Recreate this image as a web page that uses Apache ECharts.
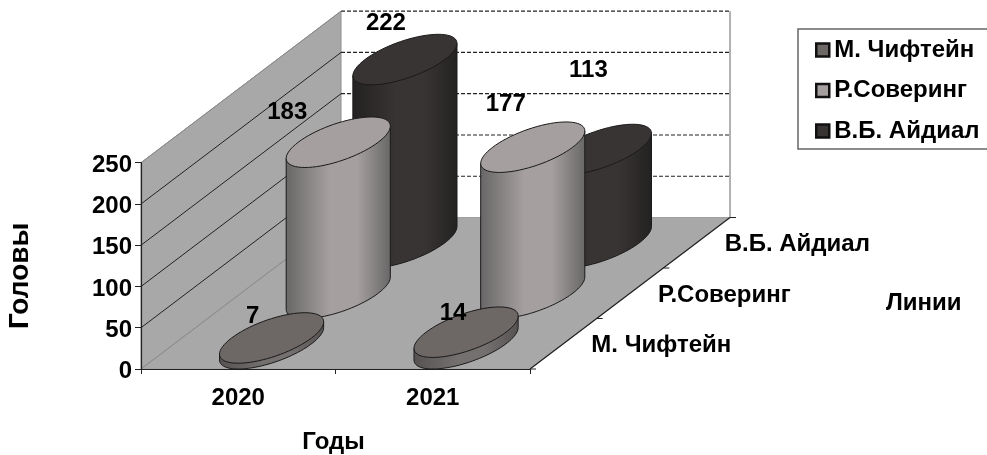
<!DOCTYPE html>
<html>
<head>
<meta charset="utf-8">
<style>html,body{margin:0;padding:0;background:#fff}#chart{width:987px;height:455px}</style>
<script src="https://cdn.jsdelivr.net/npm/echarts@6/dist/echarts.min.js"></script>
</head>
<body>
<div id="chart"></div>
<script>
// Поголовье по линиям и годам
const years = ['2020', '2021'];
const lineNames = ['М. Чифтейн', 'Р.Соверинг', 'В.Б. Айдиал'];
const chiftein = [7, 14];
const sovering = [183, 177];
const aidial = [222, 113];
const yTicks = [0, 50, 100, 150, 200, 250];

// Проекция глубины: смещение в пикселях на один ряд вдоль оси линий
const depthStep = [66.67, -50.5];
const cylinderHalfWidth = 40;
const FONT = '"Liberation Sans", Arial, sans-serif';
const FS = 24;

// Сдвиг подписей значений от центра верхнего торца
const labelShift = {
  0: [[-19, -22], [-13, -19]],
  1: [[-51, -30], [-27, -43]],
  2: [[-19, -36], [-11, -79]]
};
const depthLabelGap = 28;

const palette = [
  { top: '#6d6766', edge: '#565252', mid: '#757070', legend: '#6d6766' },
  { top: '#a5a09f', edge: '#686666', mid: '#a5a09f', legend: '#a5a09f' },
  { top: '#383433', edge: '#232121', mid: '#383433', legend: '#383433' }
];
const OUTLINE = '#1a1a1a';

function ellipsePoint(c, t) {
  return [
    c[0] + Math.cos(t) * cylinderHalfWidth + Math.sin(t) * depthStep[0] / 2,
    c[1] + Math.sin(t) * depthStep[1] / 2
  ];
}

function ellipsePoints(c, from, to, steps) {
  const pts = [];
  for (let i = 0; i <= steps; i++) {
    pts.push(ellipsePoint(c, from + (to - from) * i / steps));
  }
  return pts;
}

function cylinderRenderer(row) {
  const col = palette[row];
  return function (params, api) {
    const xi = api.value(0);
    const v = api.value(1);
    const base0 = api.coord([xi, 0]);
    const top0 = api.coord([xi, v]);
    const dx = depthStep[0] * (row + 0.5);
    const dy = depthStep[1] * (row + 0.5);
    const base = [base0[0] + dx, base0[1] + dy];
    const top = [top0[0] + dx, top0[1] + dy];
    const t0 = Math.atan2(depthStep[0] / 2, cylinderHalfWidth);
    const lowerArc = ellipsePoints(base, t0, t0 - Math.PI, 48);
    const side = [ellipsePoint(top, t0)].concat(lowerArc, [ellipsePoint(top, t0 - Math.PI)]);
    const cap = ellipsePoints(top, 0, Math.PI * 2, 72);
    const shift = labelShift[row][xi];
    return {
      type: 'group',
      children: [
        {
          type: 'polygon',
          shape: { points: side },
          style: {
            fill: new echarts.graphic.LinearGradient(0, 0, 1, 0, [
              { offset: 0, color: col.edge },
              { offset: 0.42, color: col.mid },
              { offset: 0.68, color: col.mid },
              { offset: 1, color: col.edge }
            ]),
            stroke: OUTLINE,
            lineWidth: 1
          }
        },
        {
          type: 'polygon',
          shape: { points: cap },
          style: { fill: col.top, stroke: OUTLINE, lineWidth: 1 }
        },
        {
          type: 'text',
          z2: 50,
          style: {
            x: top[0] + shift[0],
            y: top[1] + shift[1],
            text: String(v),
            fill: '#000',
            font: 'bold ' + FS + 'px ' + FONT,
            align: 'center',
            verticalAlign: 'middle'
          }
        }
      ]
    };
  };
}

// Стенки, пол, линии сетки и ось линий
function wallRenderer(params, api) {
  const v = api.value(0);
  const children = [];
  const band = api.size([1, 0])[0];
  const left = api.coord([0, v])[0] - band / 2;
  const right = api.coord([1, v])[0] + band / 2;
  const y = api.coord([0, v])[1];
  const D = [depthStep[0] * lineNames.length, depthStep[1] * lineNames.length];
  const y0 = api.coord([0, 0])[1];
  const yTop = api.coord([0, yTicks[yTicks.length - 1]])[1];

  if (params.dataIndex === 0) {
    children.push({
      type: 'polygon',
      shape: { points: [[left, y0], [left + D[0], y0 + D[1]], [left + D[0], yTop + D[1]], [left, yTop]] },
      style: { fill: '#a8a8a8', stroke: '#8f8f8f', lineWidth: 1 }
    });
    children.push({
      type: 'polygon',
      shape: { points: [[left, y0], [right, y0], [right + D[0], y0 + D[1]], [left + D[0], y0 + D[1]]] },
      style: { fill: '#a8a8a8', stroke: '#a0a0a0', lineWidth: 1 }
    });
    // правая граница задней стенки
    children.push({
      type: 'line',
      shape: { x1: right + D[0], y1: y0 + D[1], x2: right + D[0], y2: yTop + D[1] },
      style: { stroke: '#999', lineWidth: 1.5 }
    });
    // ось линий с засечками
    children.push({
      type: 'line',
      z2: 20,
      shape: { x1: right, y1: y0, x2: right + D[0], y2: y0 + D[1] },
      style: { stroke: '#222', lineWidth: 1.2 }
    });
    for (let i = 0; i <= lineNames.length; i++) {
      const tx = right + depthStep[0] * i;
      const ty = y0 + depthStep[1] * i;
      children.push({
        type: 'line',
        z2: 20,
        shape: { x1: tx, y1: ty, x2: tx + 6, y2: ty },
        style: { stroke: '#222', lineWidth: 1 }
      });
    }
    lineNames.forEach(function (name, i) {
      children.push({
        type: 'text',
        z2: 20,
        style: {
          x: right + depthStep[0] * (i + 0.5) + depthLabelGap,
          y: y0 + depthStep[1] * (i + 0.5) + 2,
          text: name,
          fill: '#000',
          font: 'bold ' + FS + 'px ' + FONT,
          align: 'left',
          verticalAlign: 'middle'
        }
      });
    });
  }

  if (v > 0) {
    children.push({
      type: 'line',
      z2: 5,
      shape: { x1: left + D[0], y1: y + D[1], x2: right + D[0], y2: y + D[1] },
      style: { stroke: '#222', lineWidth: 1.2, lineDash: [4, 2] }
    });
  }
  children.push({
    type: 'line',
    z2: 5,
    shape: { x1: left, y1: y, x2: left + D[0], y2: y + D[1] },
    style: {
      stroke: (v === 0 || v === yTicks[yTicks.length - 1]) ? '#8a8a8a' : '#222',
      lineWidth: 1
    }
  });
  return { type: 'group', children: children };
}

const lineValues = [chiftein, sovering, aidial];
const series = [{
  name: 'Стенки',
  type: 'custom',
  z: 0,
  silent: true,
  clip: false,
  renderItem: wallRenderer,
  encode: { y: 0 },
  data: yTicks.map(function (t) { return [t]; })
}];
[2, 1, 0].forEach(function (row) {
  series.push({
    name: lineNames[row],
    type: 'custom',
    z: 4 + (2 - row),
    clip: false,
    itemStyle: { color: palette[row].legend },
    encode: { x: 0, y: 1 },
    renderItem: cylinderRenderer(row),
    data: lineValues[row].map(function (v, i) { return [i, v]; })
  });
});

const chart = echarts.init(document.getElementById('chart'), null, { renderer: 'canvas' });
const axisLabel = { color: '#000', fontFamily: FONT, fontWeight: 'bold', fontSize: FS };
const nameStyle = { color: '#000', fontFamily: FONT, fontWeight: 'bold', fontSize: FS };
chart.setOption({
  animation: false,
  backgroundColor: '#fff',
  grid: { left: 141, top: 162.7, width: 389, height: 206.8, containLabel: false },
  legend: {
    left: 798,
    top: 29,
    orient: 'vertical',
    data: lineNames,
    padding: [8, 60, 5, 17],
    itemGap: 14.5,
    itemWidth: 13,
    itemHeight: 13,
    selectedMode: false,
    backgroundColor: '#fff',
    borderColor: '#666',
    borderWidth: 1.5,
    icon: 'rect',
    itemStyle: { borderColor: '#111', borderWidth: 2.5 },
    textStyle: { color: '#000', fontFamily: FONT, fontWeight: 'bold', fontSize: FS, lineHeight: 26 }
  },
  xAxis: {
    type: 'category',
    data: years,
    z: 3,
    boundaryGap: true,
    axisLine: { show: true, lineStyle: { color: '#222', width: 1.2 } },
    axisTick: { show: true, alignWithLabel: false, length: 5, lineStyle: { color: '#222' } },
    axisLabel: Object.assign({ margin: 17 }, axisLabel),
    name: 'Годы',
    nameLocation: 'middle',
    nameGap: 61,
    nameTextStyle: Object.assign({ padding: [0, 4, 0, 0] }, nameStyle)
  },
  yAxis: {
    type: 'value',
    min: 0,
    max: 250,
    interval: 50,
    z: 3,
    axisLine: { show: true, lineStyle: { color: '#222', width: 1.2 } },
    axisTick: { show: true, length: 6, lineStyle: { color: '#222' } },
    splitLine: { show: false },
    axisLabel: Object.assign({
      margin: 9,
      formatter: '{n|{value}}',
      rich: { n: { padding: [5, 0, 0, 0], fontFamily: FONT, fontWeight: 'bold', fontSize: FS, color: '#000' } }
    }, axisLabel),
    name: 'Головы',
    nameLocation: 'middle',
    nameRotate: 90,
    nameGap: 107,
    nameTextStyle: Object.assign({ padding: [0, 20, 0, 0] }, nameStyle, { fontSize: 28 })
  },
  graphic: [{
    type: 'text',
    left: 886,
    top: 291,
    style: { text: 'Линии', fill: '#000', font: 'bold ' + FS + 'px ' + FONT }
  }],
  series: series
});
</script>
</body>
</html>
